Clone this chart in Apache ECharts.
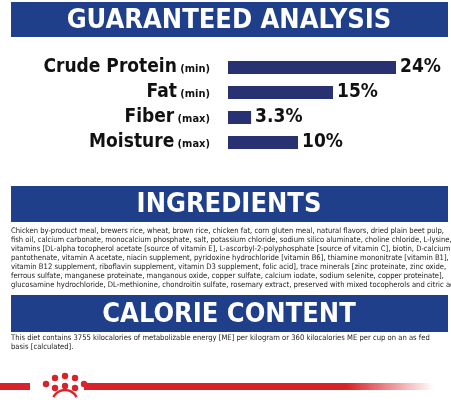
<!DOCTYPE html>
<html>
<head>
<meta charset="utf-8">
<script src="https://cdn.jsdelivr.net/npm/echarts@6/dist/echarts.min.js"></script>
<style>
  html, body { margin: 0; padding: 0; background: #fff; }
  #chart { width: 451px; height: 400px; }
</style>
</head>
<body>
<div id="chart"></div>
<script>
var nutrients = ['Crude Protein', 'Fat', 'Fiber', 'Moisture'];
var limits = ['min', 'min', 'max', 'max'];
var percents = [24, 15, 3.3, 10];
var valueLabels = ['24%', '15%', '3.3%', '10%'];

var ingredientLines = [
  'Chicken by-product meal, brewers rice, wheat, brown rice, chicken fat, corn gluten meal, natural flavors, dried plain beet pulp,',
  'fish oil, calcium carbonate, monocalcium phosphate, salt, potassium chloride, sodium silico aluminate, choline chloride, L-lysine,',
  'vitamins [DL-alpha tocopherol acetate [source of vitamin E], L-ascorbyl-2-polyphosphate [source of vitamin C], biotin, D-calcium',
  'pantothenate, vitamin A acetate, niacin supplement, pyridoxine hydrochloride [vitamin B6], thiamine mononitrate [vitamin B1],',
  'vitamin B12 supplement, riboflavin supplement, vitamin D3 supplement, folic acid], trace minerals [zinc proteinate, zinc oxide,',
  'ferrous sulfate, manganese proteinate, manganous oxide, copper sulfate, calcium iodate, sodium selenite, copper proteinate],',
  'glucosamine hydrochloride, DL-methionine, chondroitin sulfate, rosemary extract, preserved with mixed tocopherols and citric acid.'
];
var calorieLines = [
  'This diet contains 3755 kilocalories of metabolizable energy [ME] per kilogram or 360 kilocalories ME per cup on an as fed',
  'basis [calculated].'
];

var blue = '#1f3f8b';
var navy = '#283273';
var headFont = '"DejaVu Sans Condensed", "DejaVu Sans", sans-serif';
var bodyFont = '"Liberation Sans Narrow", "DejaVu Sans Condensed", sans-serif';

function banner(y, h, text) {
  return [
    { type: 'rect', shape: { x: 11, y: y, width: 437, height: h }, style: { fill: blue } },
    { type: 'text', x: 229, y: y + h / 2 + 1, style: {
        text: text, fill: '#fff', font: 'bold 27px ' + headFont,
        textAlign: 'center', textVerticalAlign: 'middle' } }
  ];
}

var graphics = [];
graphics = graphics.concat(banner(2, 35, 'GUARANTEED ANALYSIS'));
graphics = graphics.concat(banner(186, 36, 'INGREDIENTS'));
graphics = graphics.concat(banner(295, 37, 'CALORIE CONTENT'));
ingredientLines.forEach(function (t, i) {
  graphics.push({ type: 'text', x: 11, y: 227 + i * 9, style: {
    text: t, fill: '#222', font: '7.6px ' + bodyFont } });
});
calorieLines.forEach(function (t, i) {
  graphics.push({ type: 'text', x: 11, y: 334 + i * 9, style: {
    text: t, fill: '#222', font: '7.6px ' + bodyFont } });
});
// red footer line
graphics.push({ type: 'rect', shape: { x: 0, y: 383, width: 30, height: 7 }, style: { fill: '#d9232a' } });
graphics.push({ type: 'rect', shape: { x: 84, y: 383, width: 350, height: 7 }, style: {
  fill: new echarts.graphic.LinearGradient(0, 0, 1, 0, [
    { offset: 0, color: '#d9232a' }, { offset: 0.75, color: '#d9232a' }, { offset: 1, color: 'rgba(217,35,42,0)' }
  ]) } });
// crown
[[47, 372], [56, 366], [66, 364], [76, 366], [85, 372], [56, 376], [66, 374], [76, 376]].forEach(function (p) {
  graphics.push({ type: 'circle', shape: { cx: p[0] - 1, cy: p[1] + 12, r: 3.2 }, style: { fill: '#d9232a' } });
});
graphics.push({ type: 'arc', shape: { cx: 65, cy: 403, r: 13, startAngle: Math.PI * 1.15, endAngle: Math.PI * 1.85 },
  style: { stroke: '#d9232a', lineWidth: 2.5, fill: 'none' } });

var chart = echarts.init(document.getElementById('chart'));
chart.setOption({
  animation: false,
  grid: { left: 228, right: 55, top: 55, height: 100 },
  xAxis: { type: 'value', min: 0, max: 24, show: false },
  yAxis: {
    type: 'category', inverse: true,
    data: nutrients.map(function (n, i) { return n + '|' + limits[i]; }),
    axisLine: { show: false }, axisTick: { show: false },
    axisLabel: {
      margin: 18,
      formatter: function (v) {
        var p = v.split('|');
        return '{n|' + p[0] + '} {l|(' + p[1] + ')}';
      },
      rich: {
        n: { fontFamily: headFont, fontWeight: 'bold', fontSize: 19, color: '#111' },
        l: { fontFamily: headFont, fontWeight: 'bold', fontSize: 11, color: '#111', padding: [4, 0, 0, 0] }
      }
    }
  },
  series: [{
    type: 'bar', data: percents, barWidth: 13, itemStyle: { color: navy },
    label: {
      show: true, position: 'right', distance: 4,
      formatter: function (p) { return valueLabels[p.dataIndex]; },
      fontFamily: headFont, fontWeight: 'bold', fontSize: 19, color: '#111'
    }
  }],
  graphic: graphics
});
</script>
</body>
</html>
